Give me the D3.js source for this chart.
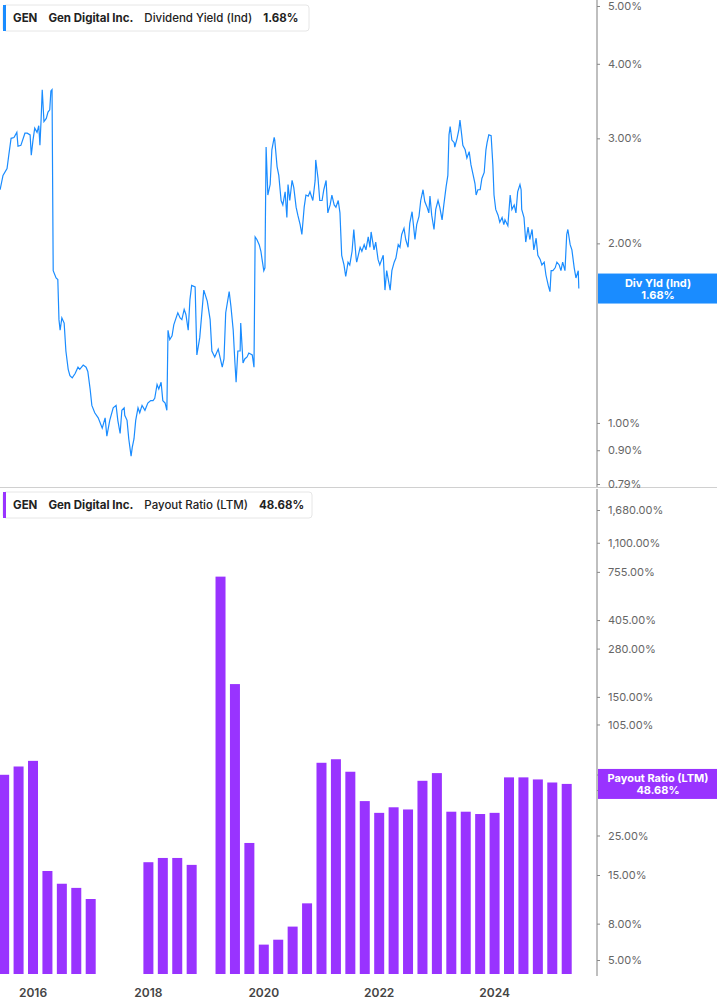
<!DOCTYPE html>
<html>
<head>
<meta charset="utf-8">
<script src="https://cdn.jsdelivr.net/npm/d3@7"></script>
<style>
  body { margin: 0; background: #fff; font-family: Inter, "Noto Sans", sans-serif; }
  svg { display: block; }
</style>
</head>
<body>
<svg id="chart" width="717" height="1005"></svg>
<script>
// Dividend yield (Ind), decimal year -> %
const yieldDates = [2015.43,2015.48,2015.55,2015.58,2015.62,2015.67,2015.72,2015.74,2015.79,2015.86,2015.90,2015.95,2015.97,2016.00,2016.03,2016.07,2016.10,2016.12,2016.14,2016.16,2016.19,2016.23,2016.26,2016.29,2016.31,2016.33,2016.35,2016.40,2016.43,2016.45,2016.47,2016.50,2016.54,2016.57,2016.61,2016.64,2016.68,2016.73,2016.78,2016.81,2016.87,2016.92,2016.95,2016.99,2017.02,2017.07,2017.13,2017.20,2017.25,2017.28,2017.33,2017.39,2017.44,2017.47,2017.51,2017.54,2017.58,2017.59,2017.63,2017.66,2017.70,2017.72,2017.75,2017.78,2017.82,2017.85,2017.89,2017.94,2017.99,2018.04,2018.08,2018.11,2018.15,2018.18,2018.22,2018.25,2018.29,2018.32,2018.34,2018.37,2018.41,2018.44,2018.48,2018.51,2018.55,2018.58,2018.62,2018.65,2018.69,2018.72,2018.75,2018.81,2018.84,2018.89,2018.96,2019.02,2019.07,2019.10,2019.15,2019.21,2019.28,2019.31,2019.34,2019.40,2019.43,2019.47,2019.50,2019.52,2019.55,2019.59,2019.60,2019.64,2019.67,2019.71,2019.74,2019.80,2019.83,2019.85,2019.88,2019.92,2019.95,2019.97,2020.00,2020.02,2020.04,2020.07,2020.11,2020.14,2020.18,2020.19,2020.23,2020.26,2020.30,2020.33,2020.37,2020.40,2020.42,2020.45,2020.49,2020.52,2020.56,2020.59,2020.63,2020.66,2020.70,2020.73,2020.77,2020.80,2020.85,2020.89,2020.90,2020.94,2020.97,2021.01,2021.04,2021.08,2021.11,2021.15,2021.18,2021.22,2021.25,2021.29,2021.32,2021.35,2021.39,2021.42,2021.46,2021.49,2021.53,2021.56,2021.60,2021.61,2021.67,2021.70,2021.74,2021.77,2021.81,2021.84,2021.86,2021.91,2021.94,2021.98,2022.01,2022.07,2022.10,2022.13,2022.19,2022.22,2022.26,2022.29,2022.33,2022.36,2022.39,2022.43,2022.46,2022.50,2022.53,2022.57,2022.58,2022.62,2022.65,2022.69,2022.72,2022.76,2022.79,2022.83,2022.86,2022.88,2022.91,2022.95,2022.98,2023.02,2023.05,2023.09,2023.12,2023.16,2023.19,2023.21,2023.23,2023.26,2023.30,2023.31,2023.35,2023.38,2023.40,2023.43,2023.45,2023.49,2023.52,2023.56,2023.59,2023.63,2023.66,2023.68,2023.71,2023.75,2023.78,2023.82,2023.85,2023.87,2023.90,2023.94,2023.97,2023.99,2024.02,2024.06,2024.09,2024.13,2024.16,2024.18,2024.23,2024.27,2024.30,2024.34,2024.37,2024.40,2024.44,2024.46,2024.47,2024.51,2024.54,2024.58,2024.61,2024.65,2024.68,2024.72,2024.75,2024.79,2024.82,2024.86,2024.89,2024.93,2024.96,2024.98,2025.01,2025.05,2025.08,2025.12,2025.15,2025.18,2025.22,2025.25,2025.27,2025.31,2025.34,2025.38,2025.41,2025.45,2025.46];
const yieldValues = [2.46,2.60,2.67,2.81,3.00,3.01,3.07,2.91,2.92,3.06,3.06,3.04,2.81,2.98,3.12,3.07,3.15,2.92,3.22,3.62,3.20,3.24,3.32,3.35,3.60,3.62,1.80,1.75,1.74,1.49,1.43,1.50,1.47,1.32,1.23,1.20,1.19,1.21,1.24,1.23,1.25,1.24,1.22,1.14,1.07,1.04,1.02,0.98,1.02,0.95,1.01,1.06,1.07,1.01,0.96,1.05,1.06,1.03,1.01,0.94,0.88,0.91,0.94,1.01,1.06,1.04,1.07,1.05,1.08,1.09,1.09,1.10,1.16,1.14,1.17,1.09,1.08,1.05,1.43,1.38,1.40,1.46,1.50,1.53,1.50,1.49,1.55,1.52,1.43,1.61,1.70,1.69,1.30,1.39,1.67,1.60,1.49,1.32,1.29,1.33,1.24,1.28,1.53,1.66,1.57,1.43,1.26,1.17,1.32,1.32,1.47,1.26,1.28,1.29,1.31,1.30,1.24,2.05,2.03,1.99,1.94,1.88,1.80,1.82,2.90,2.41,2.51,2.87,3.01,2.98,2.69,2.60,2.36,2.32,2.44,2.21,2.51,2.36,2.55,2.48,2.30,2.23,2.15,2.07,2.30,2.41,2.40,2.44,2.36,2.55,2.76,2.57,2.36,2.36,2.46,2.55,2.25,2.32,2.41,2.32,2.30,2.36,2.25,1.91,1.84,1.76,1.86,1.84,1.94,2.11,1.89,1.86,1.97,1.94,1.99,1.95,2.05,1.97,2.09,1.95,2.01,1.88,1.84,1.91,1.67,1.80,1.67,1.80,1.86,1.89,1.99,1.97,2.07,2.12,2.03,1.97,2.16,2.26,2.21,2.03,2.15,2.22,2.36,2.46,2.35,2.30,2.25,2.40,2.23,2.11,2.28,2.36,2.30,2.19,2.32,2.49,2.60,3.04,3.14,2.98,2.95,2.90,3.00,3.10,3.22,3.04,2.92,2.87,2.78,2.85,2.71,2.60,2.52,2.41,2.46,2.46,2.57,2.63,2.87,2.95,3.04,3.03,2.71,2.41,2.28,2.23,2.17,2.21,2.15,2.19,2.14,2.41,2.28,2.32,2.25,2.44,2.51,2.46,2.28,2.21,2.01,2.13,2.03,2.11,1.95,2.04,1.91,1.88,1.84,1.86,1.77,1.70,1.66,1.80,1.80,1.82,1.86,1.84,1.80,1.86,1.80,2.07,2.11,1.99,1.95,1.82,1.75,1.80,1.68];

// Payout ratio (LTM), quarterly, % (null = not reported)
const payoutQuarters = [2015.5,2015.75,2016.0,2016.25,2016.5,2016.75,2017.0,2017.25,2017.5,2017.75,2018.0,2018.25,2018.5,2018.75,2019.0,2019.25,2019.5,2019.75,2020.0,2020.25,2020.5,2020.75,2021.0,2021.25,2021.5,2021.75,2022.0,2022.25,2022.5,2022.75,2023.0,2023.25,2023.5,2023.75,2024.0,2024.25,2024.5,2024.75,2025.0,2025.25];
const payoutValues = [54.8,61,65.6,15.8,13.4,12.7,11,null,null,null,17.7,18.7,18.7,17.1,null,710,177,22.7,6.1,6.5,7.7,10.4,64,67,57,39,33.5,36,35,50.7,56,34,34,33,33.5,53,53,51.6,49.6,48.7];

const yieldTicks = [5, 4, 3, 2, 1, 0.9, 0.79];
const payoutTicks = [1680, 1100, 755, 405, 280, 150, 105, 55, 45, 25, 15, 8, 5];
const yearTicks = [2016, 2018, 2020, 2022, 2024];

const svg = d3.select('#chart');
const axisX = 597;
const blue = '#1a8cff', purple = '#9933ff';

const x = d3.scaleLinear().domain([2015.428, 2025.775]).range([0, axisX]);
const yTop = d3.scaleLog().domain([0.79, 5]).range([484, 6]);
const yBot = d3.scaleLog().domain([5, 1680]).range([960, 510]);

const fmt = d3.format(',.2f');

// panel divider
svg.append('line').attr('x1', 0).attr('x2', 717).attr('y1', 487.5).attr('y2', 487.5)
  .attr('stroke', '#d0d0d0');

// Top axis
const gTop = svg.append('g').attr('transform', `translate(${axisX},0)`);
gTop.append('line').attr('y1', 0).attr('y2', 487).attr('stroke', '#aaa').attr('stroke-width', 1.5);
gTop.call(d3.axisRight(yTop).tickValues(yieldTicks).tickSize(3).tickPadding(8).tickFormat(d => fmt(d) + '%'))
  .call(g => g.select('.domain').remove())
  .call(g => g.selectAll('text').attr('fill', '#666').style('font-size', '11px').style('font-family', 'Inter, sans-serif'))
  .call(g => g.selectAll('.tick line').attr('stroke', '#888'));

// Bottom axis
const gBot = svg.append('g').attr('transform', `translate(${axisX},0)`);
gBot.append('line').attr('y1', 489).attr('y2', 976).attr('stroke', '#aaa').attr('stroke-width', 1.5);
gBot.call(d3.axisRight(yBot).tickValues(payoutTicks).tickSize(3).tickPadding(8).tickFormat(d => fmt(d) + '%'))
  .call(g => g.select('.domain').remove())
  .call(g => g.selectAll('text').attr('fill', '#666').style('font-size', '11px').style('font-family', 'Inter, sans-serif'))
  .call(g => g.selectAll('.tick line').attr('stroke', '#888'));

// clip paths
svg.append('clipPath').attr('id', 'clipTop').append('rect').attr('x', 0).attr('y', 0).attr('width', axisX).attr('height', 487);
svg.append('clipPath').attr('id', 'clipBot').append('rect').attr('x', 0).attr('y', 489).attr('width', axisX).attr('height', 485);

// Yield line
const lineData = yieldDates.map((d, i) => ({ t: d, v: yieldValues[i] }));
svg.append('path').datum(lineData)
  .attr('clip-path', 'url(#clipTop)')
  .attr('fill', 'none').attr('stroke', blue).attr('stroke-width', 1.2)
  .attr('d', d3.line().x(d => x(d.t)).y(d => yTop(d.v)));

// Payout bars
const barData = payoutQuarters.map((q, i) => ({ t: q, v: payoutValues[i] })).filter(d => d.v != null);
const barW = 10;
const barBase = 974;
svg.append('g').attr('clip-path', 'url(#clipBot)')
  .selectAll('rect').data(barData).enter().append('rect')
  .attr('x', d => x(d.t) - barW / 2)
  .attr('y', d => yBot(d.v))
  .attr('width', barW)
  .attr('height', d => barBase - yBot(d.v))
  .attr('fill', purple);

// Year labels
svg.append('g').selectAll('text').data(yearTicks).enter().append('text')
  .attr('x', d => x(d)).attr('y', 997).attr('text-anchor', 'middle')
  .attr('fill', '#444').style('font-size', '12px').style('font-weight', 600)
  .text(d => d);

// Legends
function legend(y0, w, color, parts) {
  const g = svg.append('g').attr('transform', `translate(3,${y0})`);
  g.append('rect').attr('width', w).attr('height', 26).attr('rx', 3)
    .attr('fill', '#fff').attr('stroke', '#e6e6e6');
  g.append('rect').attr('width', 3).attr('height', 26).attr('fill', color);
  let tx = g.append('text').attr('x', 10).attr('y', 17).attr('fill', '#222').style('font-size', '11.5px');
  parts.forEach(p => tx.append('tspan').attr('dx', p.dx).style('font-weight', p.w).text(p.t));
}
legend(5, 306, blue, [
  { t: 'GEN', w: 700, dx: 0 }, { t: 'Gen Digital Inc.', w: 700, dx: 11 },
  { t: 'Dividend Yield (Ind)', w: 500, dx: 11 }, { t: '1.68%', w: 700, dx: 11 }]);
legend(492, 309, purple, [
  { t: 'GEN', w: 700, dx: 0 }, { t: 'Gen Digital Inc.', w: 700, dx: 11 },
  { t: 'Payout Ratio (LTM)', w: 500, dx: 11 }, { t: '48.68%', w: 700, dx: 11 }]);

// Right value labels
function valueLabel(yc, color, l1, l2) {
  const g = svg.append('g').attr('transform', `translate(${axisX + 1},${yc - 15})`);
  g.append('rect').attr('width', 120).attr('height', 30).attr('fill', color);
  g.append('text').attr('x', 60).attr('y', 13).attr('text-anchor', 'middle').attr('fill', '#fff')
    .style('font-size', '11px').style('font-weight', 700).text(l1);
  g.append('text').attr('x', 60).attr('y', 25).attr('text-anchor', 'middle').attr('fill', '#fff')
    .style('font-size', '11px').style('font-weight', 700).text(l2);
}
valueLabel(yTop(1.68), blue, 'Div Yld (Ind)', '1.68%');
valueLabel(yBot(48.68), purple, 'Payout Ratio (LTM)', '48.68%');
</script>
</body>
</html>
